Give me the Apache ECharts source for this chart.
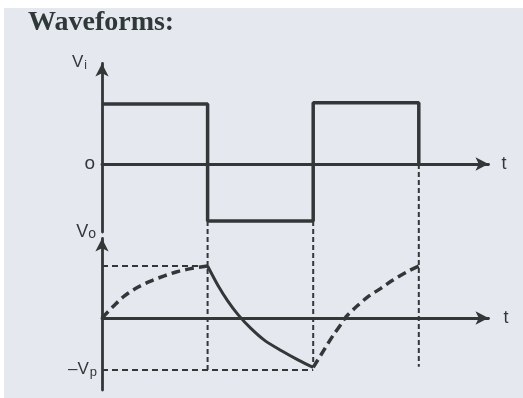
<!DOCTYPE html>
<html>
<head>
<meta charset="utf-8">
<script src="https://cdn.jsdelivr.net/npm/echarts@6/dist/echarts.min.js"></script>
<style>
  html, body { margin: 0; padding: 0; background: #ffffff; }
  #chart { position: absolute; left: 4px; top: 8px; width: 519px; height: 390px; background: #e6e8ef; }
</style>
</head>
<body>
<div id="chart"></div>
<script>
// input square wave Vi (upper plot)
var squareT = [0, 1, 1, 2, 2, 3, 3];
var squareV = [1, 1, -0.95, -0.95, 1.02, 1.02, 0];

// output Vo (lower plot)
var chargeT = [0, 0.11, 0.21, 0.33, 0.46, 0.59, 0.71, 0.84, 1.0];
var chargeV = [0, 0.23, 0.42, 0.58, 0.71, 0.81, 0.89, 0.95, 1.0];

var decayT = [1.0, 1.10, 1.19, 1.29, 1.41, 1.54, 1.70, 1.86, 2.0];
var decayV = [1.0, 0.62, 0.33, 0.06, -0.20, -0.43, -0.63, -0.81, -0.95];

var recoverT = [2.0, 2.11, 2.19, 2.27, 2.31, 2.41, 2.52, 2.64, 2.74, 2.88, 3.0];
var recoverV = [-0.95, -0.59, -0.33, -0.10, 0.02, 0.22, 0.41, 0.57, 0.71, 0.88, 1.0];

// dashed guide lines
var peakGuideT = [0, 1];
var peakGuideV = [1, 1];
var vpGuideT = [0, 2];
var vpGuideV = [-1, -1];
var dropT = [1, 2, 3];
var dropTop = [-0.95, -0.95, 0];
var dropBottom = [-3.48, -3.38, -3.38];

var ink = '#333738';
var myChart = echarts.init(document.getElementById('chart'));

function pts(ts, vs) {
    var out = [];
    for (var i = 0; i < ts.length; i++) out.push([ts[i], vs[i]]);
    return out;
}

function lineSeries(grid, data, width, dash, smooth) {
    return {
        type: 'line',
        xAxisIndex: grid,
        yAxisIndex: grid,
        data: data,
        symbol: 'none',
        smooth: smooth || false,
        clip: false,
        silent: true,
        lineStyle: { color: ink, width: width, type: dash || 'solid' }
    };
}

var series = [
    lineSeries(0, pts(squareT, squareV), 3.5),
    lineSeries(1, pts(peakGuideT, peakGuideV), 2, [6, 4]),
    lineSeries(1, pts(vpGuideT, vpGuideV), 2, [6, 4]),
    lineSeries(1, pts(chargeT, chargeV), 3.5, [9, 5], 0.3),
    lineSeries(1, pts(decayT, decayV), 3, 'solid', 0.3),
    lineSeries(1, pts(recoverT, recoverV), 3.5, [9, 5], 0.3)
];
for (var i = 0; i < dropT.length; i++) {
    series.push(lineSeries(0, [[dropT[i], dropTop[i]], [dropT[i], dropBottom[i]]], 2, [5, 3]));
}

function axisLine() {
    return {
        show: true,
        symbol: ['none', 'arrow'],
        symbolSize: [10, 13],
        lineStyle: { color: ink, width: 2.8 }
    };
}

var font = 'Liberation Sans';

option = {
    animation: false,
    title: {
        text: 'Waveforms:',
        left: 24,
        top: 1,
        padding: 0,
        textStyle: { fontFamily: 'Liberation Serif', fontWeight: 'bold', fontSize: 28, color: '#2e3938' }
    },
    grid: [
        { left: 98, top: 55.5, width: 386.5, height: 168.5 },
        { left: 98, top: 230.5, width: 386.5, height: 151.5 }
    ],
    xAxis: [
        {
            type: 'value', gridIndex: 0, min: 0, max: 3.66,
            axisLine: axisLine(), axisTick: { show: false }, axisLabel: { show: false }, splitLine: { show: false },
            name: 't', nameLocation: 'end', nameGap: 13,
            nameTextStyle: { fontFamily: font, fontSize: 18, color: ink, verticalAlign: 'middle', padding: [0, 0, 6, 0] }
        },
        {
            type: 'value', gridIndex: 1, min: 0, max: 3.66,
            axisLine: axisLine(), axisTick: { show: false }, axisLabel: { show: false }, splitLine: { show: false },
            name: 't', nameLocation: 'end', nameGap: 15,
            nameTextStyle: { fontFamily: font, fontSize: 18, color: ink, verticalAlign: 'middle', padding: [0, 0, 10, 0] }
        }
    ],
    yAxis: [
        {
            type: 'value', gridIndex: 0, min: -1.133, max: 1.675,
            axisLine: axisLine(), axisTick: { show: false }, splitLine: { show: false },
            axisLabel: {
                customValues: [0], margin: 7,
                formatter: function () { return 'o'; },
                fontFamily: font, fontSize: 19, color: ink
            },
            name: '{v|V}{s|i}', nameLocation: 'end', nameGap: 1,
            nameTextStyle: {
                align: 'right', verticalAlign: 'middle', padding: [0, 15, 0, 0],
                rich: {
                    v: { fontFamily: font, fontSize: 17, color: ink, lineHeight: 18, verticalAlign: 'top' },
                    s: { fontFamily: font, fontSize: 12, color: ink, lineHeight: 12, verticalAlign: 'bottom', padding: [11, 0, 0, 1] }
                }
            }
        },
        {
            type: 'value', gridIndex: 1, min: -1.385, max: 1.529,
            axisLine: axisLine(), axisTick: { show: false }, splitLine: { show: false },
            axisLabel: {
                customValues: [-1], margin: 5,
                formatter: function () { return '{v|\u2013V}{s|p}'; },
                rich: {
                    v: { fontFamily: font, fontSize: 17, color: ink, lineHeight: 18, verticalAlign: 'top' },
                    s: { fontFamily: font, fontSize: 13, color: ink, lineHeight: 13, verticalAlign: 'bottom', padding: [10, 0, 0, 1] }
                }
            },
            name: '{v|V}{s|o}', nameLocation: 'end', nameGap: 6,
            nameTextStyle: {
                align: 'right', verticalAlign: 'middle', padding: [0, 6, 0, 0],
                rich: {
                    v: { fontFamily: font, fontSize: 18, color: ink, lineHeight: 18, verticalAlign: 'top' },
                    s: { fontFamily: font, fontSize: 14, color: ink, lineHeight: 14, verticalAlign: 'bottom', padding: [9, 0, 0, 0] }
                }
            }
        }
    ],
    series: series
};

myChart.setOption(option);
</script>
</body>
</html>
